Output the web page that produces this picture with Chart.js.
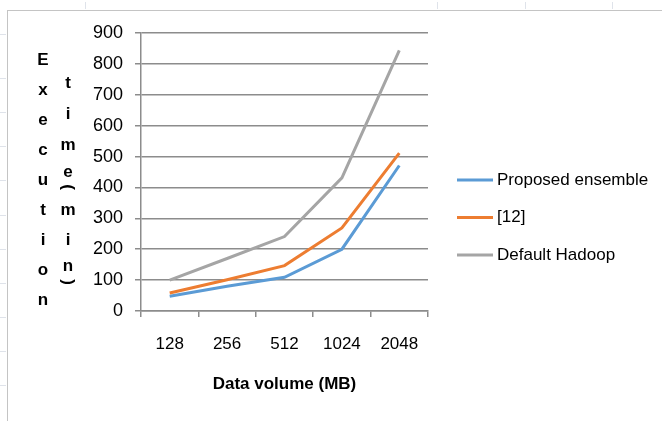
<!DOCTYPE html>
<html>
<head>
<meta charset="utf-8">
<script src="https://cdn.jsdelivr.net/npm/chart.js@4"></script>
<style>
  html, body { margin: 0; padding: 0; background: #fff; }
  #wrap { position: relative; width: 662px; height: 421px; overflow: hidden; background: #fff; }
  #frame { position: absolute; left: 7px; top: 10px; right: -2px; bottom: -2px;
           border-left: 1.5px solid #c4c4c4; border-top: 1.5px solid #c4c4c4; }
  .mk { position: absolute; background: #dfe3ea; }
  canvas { position: absolute; left: 0; top: 0; }
</style>
</head>
<body>
<div id="wrap">
  <canvas id="c" width="662" height="421"></canvas>
  <div id="frame"></div>
</div>
<script>
// Execution time (min) per data volume
const categories = ['128', '256', '512', '1024', '2048'];
const proposedEnsemble = [48, 80, 109, 200, 471];
const ref12 = [58, 101, 147, 269, 511];
const defaultHadoop = [100, 170, 241, 431, 844];
const seriesNames = ['Proposed ensemble', '[12]', 'Default Hadoop'];
const seriesColors = ['#5b9bd5', '#ed7d31', '#a5a5a5'];
const yTicks = [0, 100, 200, 300, 400, 500, 600, 700, 800, 900];
const yTitleCol1 = 'Execution';
const yTitleCol2 = 'time(min)';
const xTitle = 'Data volume (MB)';

const FONT = '"Liberation Sans Narrow", "Liberation Sans", Arial, sans-serif';

// faint sheet marks along the frame
(function () {
  const wrap = document.getElementById('wrap');
  [34, 78, 112, 146, 180, 215, 249, 283, 317, 351, 385].forEach(y => {
    const d = document.createElement('div');
    d.className = 'mk';
    d.style.cssText = 'left:0;top:' + y + 'px;width:6px;height:1px;';
    wrap.appendChild(d);
  });
  [85, 437, 525, 612].forEach(x => {
    const d = document.createElement('div');
    d.className = 'mk';
    d.style.cssText = 'left:' + x + 'px;top:2px;width:1px;height:7px;';
    wrap.appendChild(d);
  });
})();

// stacked-letter vertical axis title
const stackedTitle = {
  id: 'stackedTitle',
  afterDraw(chart) {
    const ctx = chart.ctx;
    ctx.save();
    ctx.fillStyle = '#000';
    ctx.font = 'bold 17px "Liberation Sans", Arial, sans-serif';
    ctx.textAlign = 'center';
    ctx.textBaseline = 'middle';
    const col1 = yTitleCol1.split('');
    col1.forEach((ch, i) => ctx.fillText(ch, 43, 60 + i * 30));
    const col2 = yTitleCol2.split('');
    const ys = [83, 114, 145, 172, 187, 210, 240, 266, 282];
    col2.forEach((ch, i) => {
      if (ch === '(' || ch === ')') {
        ctx.save();
        ctx.translate(68, ys[i]);
        ctx.rotate(Math.PI / 2);
        ctx.fillText(ch, 0, 0);
        ctx.restore();
      } else {
        ctx.fillText(ch, 68, ys[i]);
      }
    });
    ctx.restore();
  }
};

// legend on the right with line swatches
const sideLegend = {
  id: 'sideLegend',
  afterDraw(chart) {
    const ctx = chart.ctx;
    ctx.save();
    ctx.font = '17px ' + FONT;
    ctx.textAlign = 'left';
    ctx.textBaseline = 'middle';
    chart.data.datasets.forEach((ds, i) => {
      const y = 180 + i * 37.5;
      ctx.strokeStyle = ds.borderColor;
      ctx.lineWidth = 3;
      ctx.beginPath();
      ctx.moveTo(457, y);
      ctx.lineTo(493, y);
      ctx.stroke();
      ctx.fillStyle = '#000';
      ctx.fillText(ds.label, 497, y);
    });
    ctx.restore();
  }
};

const bg = {
  id: 'bg',
  beforeDraw(chart) {
    const ctx = chart.ctx;
    ctx.save();
    ctx.fillStyle = '#fff';
    ctx.fillRect(0, 0, chart.width, chart.height);
    ctx.restore();
  }
};

const seriesData = [proposedEnsemble, ref12, defaultHadoop];

new Chart(document.getElementById('c'), {
  type: 'line',
  data: {
    labels: categories,
    datasets: seriesData.map((d, i) => ({
      label: seriesNames[i],
      data: d,
      borderColor: seriesColors[i],
      backgroundColor: seriesColors[i],
      borderWidth: 3,
      pointRadius: 0,
      tension: 0,
      fill: false,
      order: 3 - i
    }))
  },
  options: {
    responsive: false,
    animation: false,
    devicePixelRatio: 1,
    layout: { padding: { left: 0, top: 33, right: 234, bottom: 0 } },
    plugins: {
      legend: { display: false },
      tooltip: { enabled: false }
    },
    scales: {
      x: {
        type: 'category',
        offset: true,
        afterFit(scale) { scale.height = 110; },
        grid: {
          offset: true,
          drawOnChartArea: false,
          drawTicks: true,
          tickLength: 6,
          color: '#8c8c8c',
          lineWidth: 1.5
        },
        border: { display: true, color: '#8c8c8c', width: 1.5 },
        ticks: {
          color: '#000',
          font: { family: FONT, size: 17 },
          padding: 17,
          maxRotation: 0
        },
        title: {
          display: true,
          text: xTitle,
          color: '#000',
          font: { family: FONT, size: 17, weight: 'bold' },
          padding: { top: 0, bottom: 26 }
        }
      },
      y: {
        min: 0,
        max: 900,
        afterFit(scale) { scale.width = 141; },
        afterBuildTicks(scale) { scale.ticks = yTicks.map(v => ({ value: v })); },
        grid: {
          color: '#8c8c8c',
          lineWidth: 1.5,
          drawTicks: true,
          tickLength: 6
        },
        border: { display: true, color: '#8c8c8c', width: 1.5 },
        ticks: {
          color: '#000',
          font: { family: FONT, size: 18 },
          padding: 12
        }
      }
    }
  },
  plugins: [bg, stackedTitle, sideLegend]
});
</script>
</body>
</html>
